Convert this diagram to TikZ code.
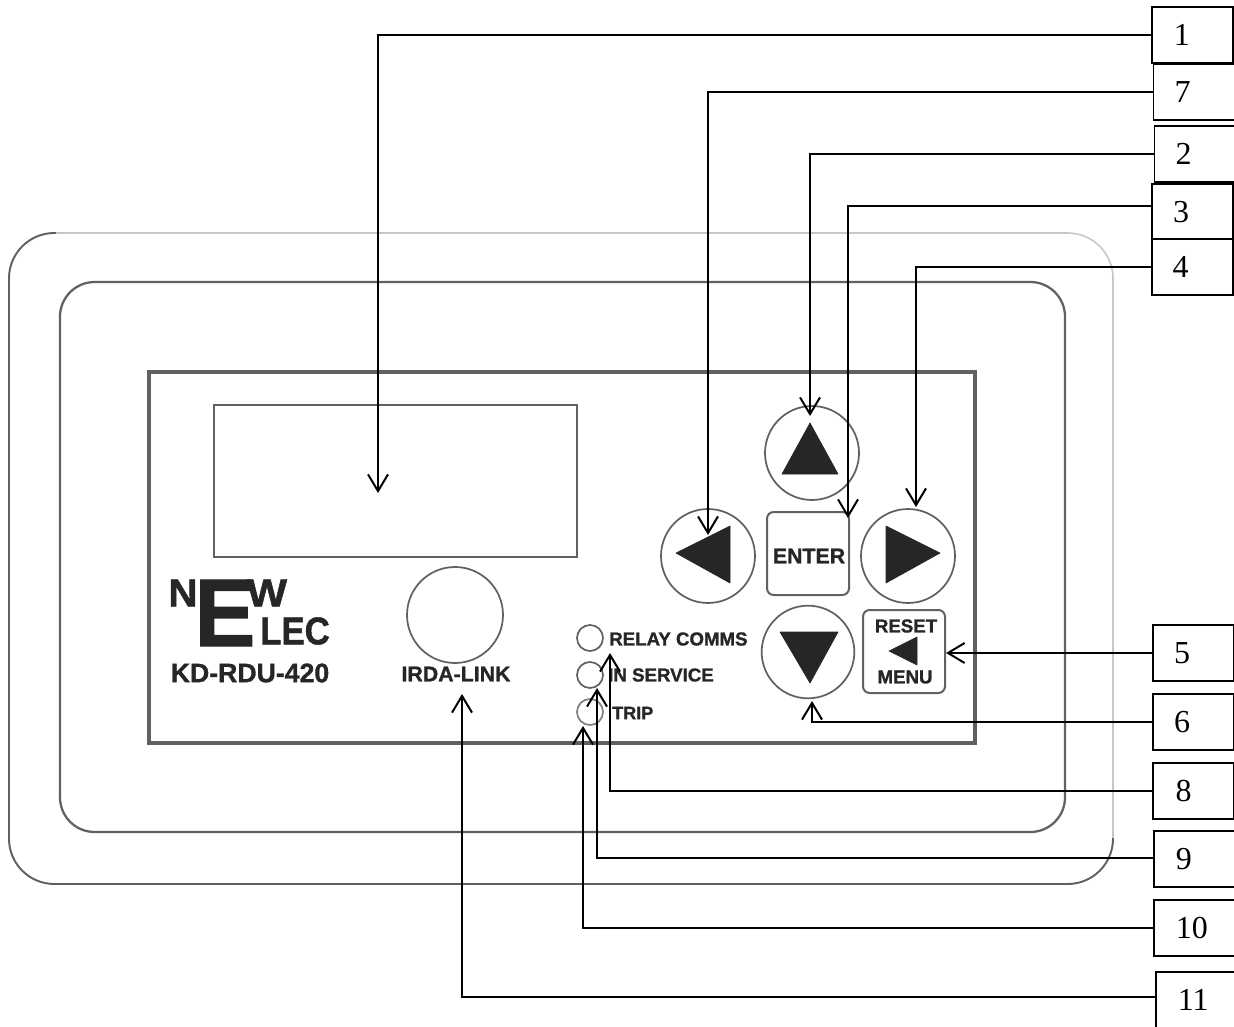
\documentclass[tikz,border=0pt]{standalone}
\usepackage{fontspec}
\setmainfont{Liberation Serif}
\newfontfamily\panelfont{Liberation Sans}[BoldFont={Liberation Sans Bold},BoldFeatures={FakeBold=1.2}]
\usetikzlibrary{arrows.meta}
\definecolor{ink}{gray}{0.15}
\definecolor{edge}{gray}{0.38}
\definecolor{faint}{gray}{0.78}
\tikzset{
  x=0.75pt,y=-0.75pt,
  numbox/.style={draw=black,line width=0.85pt,fill=white,minimum width=60.75pt,minimum height=42pt,inner sep=0pt,font=\fontsize{24}{24}\selectfont},
  callout/.style={draw=black,line width=1.5pt,-{Straight Barb[length=12.5pt,width=15pt,line width=1.5pt]}},
  ring/.style={circle,draw=edge,line width=1.3pt,inner sep=0pt},
  led/.style={ring,minimum size=19.5pt},
  keyring/.style={ring,minimum size=70.5pt},
  keybox/.style={draw=edge,line width=1.5pt,rounded corners=5pt,inner sep=0pt},
  glyph/.style={fill=ink,draw=ink,line width=0.5pt,line join=round},
  lab/.style={text=ink,inner sep=0pt,font=\panelfont\bfseries\fontsize{#1}{#1}\selectfont},
  lab/.default=14,
}
\begin{document}
\begin{tikzpicture}
\clip (0,0) rectangle (1234,1027);
\fill[white] (0,0) rectangle (1234,1027);
% housing
\draw[faint,line width=1.2pt,rounded corners=34pt] (9,233) rectangle (1113,884);
\draw[edge,line width=1.4pt,rounded corners=34pt] (56,233) -- (9,233) -- (9,884) -- (1113,884) -- (1113,838);
\draw[edge,line width=1.7pt,rounded corners=26pt] (60,282) rectangle (1065,832);
\draw[edge,line width=2.6pt] (149,372) rectangle (975,743);
\draw[edge,line width=1.5pt] (214,405) rectangle (577,557);
% logo
\node[lab=29,anchor=center,xscale=1.05] (logoN) at (183,593) {N};
\node[lab=72,anchor=center,xscale=0.95] (logoE) at (225,613) {E};
\node[lab=29,anchor=center,xscale=1.1] (logoW) at (267,593) {W};
\node[lab=29,anchor=center,xscale=0.9] (logoL) at (295,631) {LEC};
\node[lab=20] (model) at (250,673) {KD-RDU-420};
% IrDA
\node[ring,minimum size=72pt] (irda) at (455,615) {};
\node[lab=16] (irdalab) at (456,674) {IRDA-LINK};
% LEDs
\node[led] (led1) at (590,638) {};
\node[led] (led2) at (590,675) {};
\node[led,draw=gray] (led3) at (590,712) {};
\node[lab=14,anchor=west] (l1) at (609,639) {RELAY COMMS};
\node[lab=14,anchor=west] (l2) at (608,675) {IN SERVICE};
\node[lab=13.5,anchor=west] (l3) at (612,713) {TRIP};
% keys
\node[keyring] (up) at (812,453) {};
\node[keyring] (left) at (708,556) {};
\node[keyring] (right) at (908,556) {};
\node[keyring,minimum size=69.5pt] (down) at (808,652) {};
\fill[glyph] (810,423) -- (838,474) -- (782,474) -- cycle;
\fill[glyph] (676,553) -- (730,526) -- (730,583) -- cycle;
\fill[glyph] (940,553) -- (886,526) -- (886,583) -- cycle;
\fill[glyph] (810,683) -- (780,632) -- (838,632) -- cycle;
\node[keybox,minimum width=61.5pt,minimum height=62.25pt] (enter) at (808,553.5) {};
\node[lab=16] (enterlab) at (809,556) {ENTER};
\node[keybox,minimum width=61.5pt,minimum height=62.25pt] (reset) at (904,651.5) {};
\node[lab=14] (resetlab) at (906,626) {RESET};
\node[lab=14] (menulab) at (905,677) {MENU};
\fill[glyph] (889,651) -- (917,637) -- (917,665) -- cycle;
% numbered boxes
\node[numbox] (b1) at (1192.5,35) {1\kern16pt};
\node[numbox] (b7) at (1194,92) {7\kern17pt};
\node[numbox] (b2) at (1195,154) {2\kern17pt};
\node[numbox] (b3) at (1192.5,212) {3\kern17pt};
\node[numbox] (b4) at (1192.5,267) {4\kern18pt};
\node[numbox] (b5) at (1193.5,653) {5\kern17pt};
\node[numbox] (b6) at (1193.5,722) {6\kern17pt};
\node[numbox] (b8) at (1193.5,791) {8\kern15pt};
\node[numbox] (b9) at (1194.5,859) {9\kern16pt};
\node[numbox] (b10) at (1194.5,928) {10\kern4pt};
\node[numbox] (b11) at (1196.5,1000) {11\kern5pt};
% arrow targets
\coordinate (t1) at (378,493);
\coordinate (t7) at (708,535);
\coordinate (t2) at (810,416);
\coordinate (t3) at (848,518);
\coordinate (t4) at (916,507);
\coordinate (t5) at (946,653);
\coordinate (t6) at (812,701);
\coordinate (t8) at (610,653);
\coordinate (t9) at (597,688);
\coordinate (t10) at (583,726);
\coordinate (t11) at (462,694);
% connectors
\draw[callout] (b1.west) -| (t1);
\draw[callout] (b7.west) -| (t7);
\draw[callout] (b2.west) -| (t2);
\draw[callout] (b3.west) ++(0,-6) -| (t3);
\draw[callout] (b4.west) -| (t4);
\draw[callout] (b5.west) -- (t5);
\draw[callout] (b6.west) -| (t6);
\draw[callout] (b8.west) -| (t8);
\draw[callout] (b9.west) ++(0,-1) -| (t9);
\draw[callout] (b10.west) -| (t10);
\draw[callout] (b11.west) ++(0,-3.5) -| (t11);
\end{tikzpicture}
\end{document}
